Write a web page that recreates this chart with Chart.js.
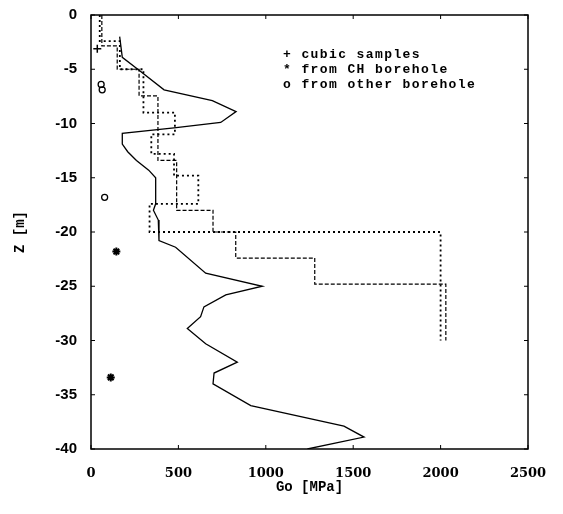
<!DOCTYPE html>
<html>
<head>
<meta charset="utf-8">
<script src="https://cdn.jsdelivr.net/npm/chart.js@4.4.0/dist/chart.umd.min.js"></script>
<style>
  html, body { margin: 0; padding: 0; background: #fff; }
  #wrap { width: 563px; height: 514px; }
</style>
</head>
<body>
<div id="wrap"><canvas id="goChart" width="563" height="514"></canvas></div>
<script>
// Go profile (solid line)
const solidGo = [164, 179, 275, 418, 694, 830, 742, 475, 179, 179, 210, 260, 330, 370, 370, 357, 385, 389, 484, 656, 980, 771, 646, 627, 551, 656, 837, 704, 698, 914, 1447, 1562, 1238];
const solidZ  = [-2.0, -3.9, -5.1, -6.9, -7.9, -8.9, -9.9, -10.4, -10.9, -11.9, -12.6, -13.4, -14.3, -15.0, -17.4, -18.0, -18.9, -20.8, -21.4, -23.8, -25.0, -25.8, -26.9, -27.8, -28.9, -30.3, -32.0, -33.0, -34.0, -36.0, -37.9, -38.9, -40.0];

// layered model, dotted
const dottedGo = [50, 50, 165, 165, 300, 300, 480, 480, 345, 345, 475, 475, 614, 614, 335, 335, 2000, 2000];
const dottedZ  = [0, -2.4, -2.4, -5, -5, -9, -9, -11, -11, -12.8, -12.8, -14.8, -14.8, -17.4, -17.4, -20, -20, -30];

// layered model, dashed
const dashedGo = [62, 62, 150, 150, 275, 275, 383, 383, 490, 490, 698, 698, 828, 828, 1280, 1280, 2030, 2030];
const dashedZ  = [0, -2.85, -2.85, -5, -5, -7.45, -7.45, -13.4, -13.4, -18, -18, -20, -20, -22.4, -22.4, -24.8, -24.8, -30];

// samples
const cubicGo = [36];
const cubicZ  = [-3.1];
const chGo = [145, 113];
const chZ  = [-21.8, -33.4];
const otherGo = [58, 64, 78];
const otherZ  = [-6.4, -6.9, -16.8];

const xTicks = [0, 500, 1000, 1500, 2000, 2500];
const yTicks = [0, -5, -10, -15, -20, -25, -30, -35, -40];

const legendLines = ['+ cubic samples', '* from CH borehole', 'o from other borehole'];

const pts = (xs, ys) => xs.map((v, i) => ({ x: v, y: ys[i] }));

const framePlugin = {
    id: 'frame',
    afterDatasetsDraw(chart) {
        const { ctx, chartArea: a, scales: { x, y } } = chart;
        ctx.save();
        ctx.strokeStyle = '#000';
        ctx.lineWidth = 1.5;
        ctx.strokeRect(a.left, a.top, a.right - a.left, a.bottom - a.top);
        ctx.lineWidth = 1;
        ctx.beginPath();
        xTicks.forEach(v => {
            const px = x.getPixelForValue(v);
            ctx.moveTo(px, a.bottom); ctx.lineTo(px, a.bottom - 4);
            ctx.moveTo(px, a.top); ctx.lineTo(px, a.top + 4);
        });
        yTicks.forEach(v => {
            const py = y.getPixelForValue(v);
            ctx.moveTo(a.left, py); ctx.lineTo(a.left + 4, py);
            ctx.moveTo(a.right, py); ctx.lineTo(a.right - 4, py);
        });
        ctx.stroke();

        // legend text
        ctx.fillStyle = '#000';
        ctx.font = 'bold 13px "Liberation Mono"';
        if ('letterSpacing' in ctx) ctx.letterSpacing = '1.4px';
        ctx.textBaseline = 'middle';
        legendLines.forEach((t, i) => ctx.fillText(t, 283, 55 + i * 15));
        ctx.restore();
    }
};

new Chart(document.getElementById('goChart'), {
    type: 'scatter',
    data: {
        datasets: [
            {
                data: pts(solidGo, solidZ), showLine: true,
                borderColor: '#000', borderWidth: 1.3, pointRadius: 0
            },
            {
                data: pts(dottedGo, dottedZ), showLine: true,
                borderColor: '#000', borderWidth: 1.8, borderDash: [2, 3], pointRadius: 0
            },
            {
                data: pts(dashedGo, dashedZ), showLine: true,
                borderColor: '#000', borderWidth: 1.2, borderDash: [4, 2], pointRadius: 0
            },
            {
                data: pts(cubicGo, cubicZ), pointStyle: 'cross', pointRadius: 4,
                borderColor: '#000', borderWidth: 1.5
            },
            {
                data: pts(chGo, chZ), pointStyle: 'star', pointRadius: 4,
                borderColor: '#000', borderWidth: 2
            },
            {
                data: pts(otherGo, otherZ), pointStyle: 'circle', pointRadius: 3,
                borderColor: '#000', backgroundColor: 'rgba(0,0,0,0)', borderWidth: 1.3
            }
        ]
    },
    options: {
        responsive: false,
        animation: false,
        layout: { padding: { top: 14, right: 35, left: 0, bottom: 0 } },
        plugins: { legend: { display: false }, tooltip: { enabled: false } },
        scales: {
            x: {
                min: 0, max: 2500,
                afterFit: s => { s.height = 65; },
                afterBuildTicks: s => { s.ticks = xTicks.map(v => ({ value: v })); },
                grid: { display: false },
                border: { display: false },
                ticks: {
                    color: '#000', padding: 9,
                    callback: v => String(v),
                    font: { family: '"DejaVu Serif"', size: 13, weight: 'bold' }
                },
                title: {
                    display: true, text: 'Go [MPa]', color: '#000',
                    font: { family: '"Liberation Mono"', size: 14, weight: 'bold' },
                    padding: { top: 0, bottom: 18 }
                }
            },
            y: {
                min: -40, max: 0,
                afterFit: s => { s.width = 91; },
                afterBuildTicks: s => { s.ticks = yTicks.map(v => ({ value: v })); },
                grid: { display: false },
                border: { display: false },
                ticks: {
                    color: '#000', padding: 6,
                    font: { family: '"Liberation Sans"', size: 15, weight: 'bold' }
                },
                title: {
                    display: true, text: 'Z [m]', color: '#000',
                    font: { family: '"Liberation Mono"', size: 14, weight: 'bold' },
                    padding: { top: 12, bottom: 0 }
                }
            }
        }
    },
    plugins: [framePlugin]
});
</script>
</body>
</html>
